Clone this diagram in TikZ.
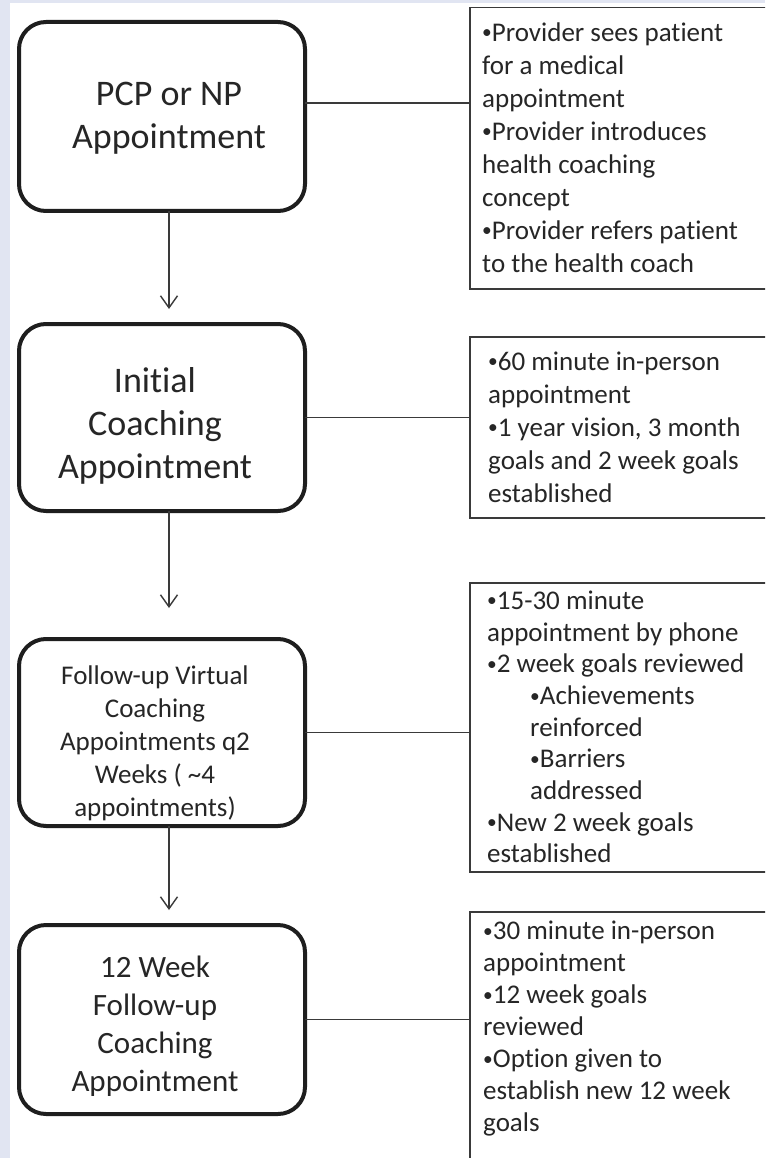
\documentclass[tikz,border=0pt]{standalone}
\usepackage{fontspec}
\setmainfont{Carlito}[Ligatures={NoCommon,NoRequired,NoContextual}]
\usetikzlibrary{arrows.meta,calc}
\definecolor{bgblue}{HTML}{E1E5F2}
\definecolor{ink}{HTML}{262626}
\definecolor{edgec}{HTML}{1E1E1E}
\definecolor{thinc}{HTML}{3A3A3A}
\newcommand\bul{\raisebox{0.09em}{\scalebox{0.72}{•}}}
\begin{document}
\begin{tikzpicture}[x=1pt,y=-1pt,
  stage/.style={draw=edgec, line width=4pt, rounded corners=27pt, rectangle, minimum width=286pt, inner sep=0pt, outer sep=0pt},
  stagetext/.style={text=ink, align=center, inner sep=0pt},
  infobox/.style={draw=thinc, line width=1.4pt, rectangle, inner sep=0pt, outer sep=0pt, anchor=north west, minimum width=330pt},
  infotext/.style={text=ink, align=left, inner sep=0pt, anchor=north west},
  link/.style={draw=thinc, line width=1.4pt},
  arr/.style={link, -{Straight Barb[length=12pt,width=17pt]}}
]
\useasboundingbox (0,0) rectangle (765,1158);
\clip (0,0) rectangle (765,1158);
\fill[bgblue] (0,0) rectangle (765,1158);
\fill[white] (10,3) rectangle (765,1158);

% stage boxes
\node[stage, minimum height=189pt] (b1) at (162,116.5) {};
\node[stage, minimum height=187pt] (b2) at (162,417.5) {};
\node[stage, minimum height=187pt] (b3) at (162,732.5) {};
\node[stage, minimum height=189pt] (b4) at (162,1019.5) {};

\node[stagetext, font=\fontsize{36}{43}\selectfont] (t1) at (169,118.7) {\strut PCP or NP\\Appointment\strut};
\node[stagetext, font=\fontsize{36}{43}\selectfont] (t2) at (155,427) {\strut Initial\\Coaching\\Appointment\strut};
\node[stagetext, font=\fontsize{27}{33}\selectfont] (t3) at (155,744) {\strut Follow-up Virtual\\Coaching\\Appointments q2\\Weeks ( \textasciitilde4\\appointments)\strut};
\node[stagetext, font=\fontsize{31}{38}\selectfont] (t4) at (155,1027) {\strut 12 Week\\Follow-up\\Coaching\\Appointment\strut};

% info boxes
\node[infobox, minimum height=281.5pt] (r1) at (470,7.5) {};
\node[infobox, minimum height=181pt] (r2) at (470,337) {};
\node[infobox, minimum height=289pt] (r3) at (470,583) {};
\node[infobox, minimum height=300pt] (r4) at (470,912) {};

\node[infotext, font=\fontsize{27}{33}\selectfont] (n1) at (482,18) {\strut \bul Provider sees patient\\for a medical\\appointment\\\bul Provider introduces\\health coaching\\concept\\\bul Provider refers patient\\to the health coach\strut};
\node[infotext, font=\fontsize{27}{33}\selectfont] (n2) at (488,347) {\strut \bul 60 minute in-person\\appointment\\\bul 1 year vision, 3 month\\goals and 2 week goals\\established\strut};
\node[infotext, font=\fontsize{27}{31.7}\selectfont] (n3) at (487,587) {\strut \bul 15-30 minute\\appointment by phone\\\bul 2 week goals reviewed\\\hspace*{43pt}\bul Achievements\\\hspace*{43pt}reinforced\\\hspace*{43pt}\bul Barriers\\\hspace*{43pt}addressed\\\bul New 2 week goals\\established\strut};
\node[infotext, font=\fontsize{27}{32}\selectfont] (n4) at (483,917) {\strut \bul 30 minute in-person\\appointment\\\bul 12 week goals\\reviewed\\\bul Option given to\\establish new 12 week\\goals\strut};

% connectors
\draw[link] ([yshift=13.5pt]b1.east) -- ([yshift=13.5pt]b1.east -| r1.west);
\draw[link] (b2.east) -- (b2.east -| r2.west);
\draw[link] (b3.east) -- (b3.east -| r3.west);
\draw[link] (b4.east) -- (b4.east -| r4.west);

% arrows
\draw[arr] ([xshift=7pt]b1.south) -- ([xshift=7pt,yshift=15pt]b2.north);
\draw[arr] ([xshift=7pt]b2.south) -- ([xshift=7pt,yshift=31pt]b3.north);
\draw[arr] ([xshift=7pt]b3.south) -- ([xshift=7pt,yshift=15pt]b4.north);
\end{tikzpicture}
\end{document}
